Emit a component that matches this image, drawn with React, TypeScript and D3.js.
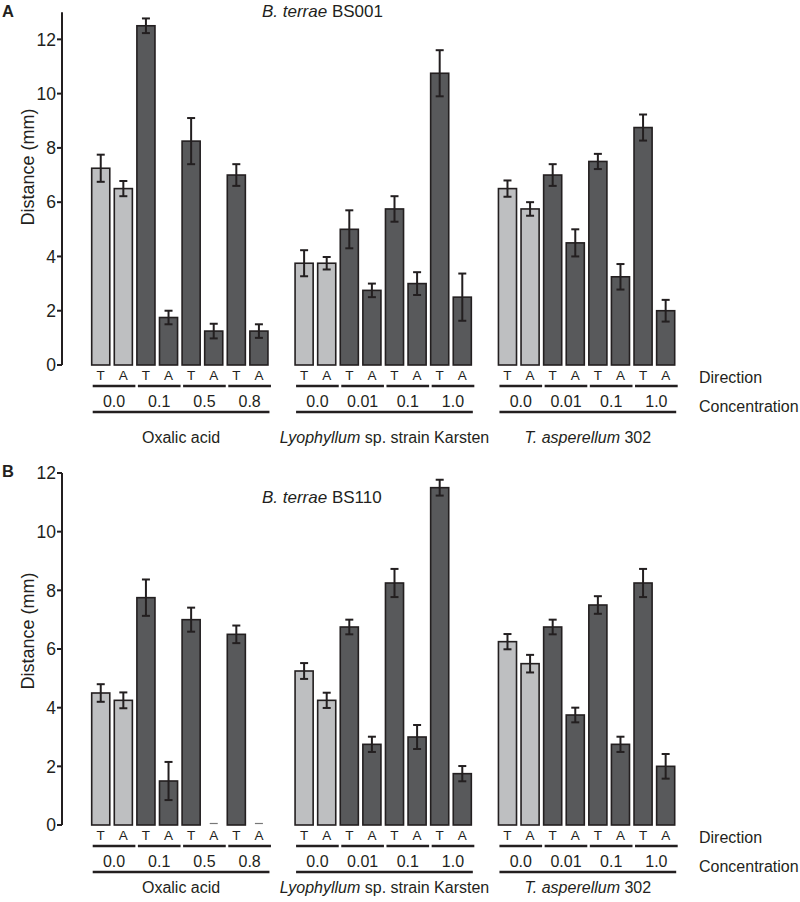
import React from "react";
import * as d3 from "d3";

const groupNames = ["Oxalic acid", "Lyophyllum sp. strain Karsten", "T. asperellum 302"];
const concentrations = [
  ["0.0", "0.1", "0.5", "0.8"],
  ["0.0", "0.01", "0.1", "1.0"],
  ["0.0", "0.01", "0.1", "1.0"],
];
const directions = ["T", "A"];

// order: group, concentration, direction (T, A)
const bs001Means = [
  7.25, 6.5, 12.5, 1.75, 8.25, 1.25, 7.0, 1.25,
  3.75, 3.75, 5.0, 2.75, 5.75, 3.0, 10.75, 2.5,
  6.5, 5.75, 7.0, 4.5, 7.5, 3.25, 8.75, 2.0,
];
const bs001Errors = [
  0.5, 0.28, 0.27, 0.25, 0.85, 0.27, 0.4, 0.25,
  0.48, 0.23, 0.7, 0.25, 0.47, 0.42, 0.85, 0.87,
  0.3, 0.25, 0.4, 0.5, 0.28, 0.47, 0.48, 0.4,
];
const bs110Means = [
  4.5, 4.25, 7.75, 1.5, 7.0, 0, 6.5, 0,
  5.25, 4.25, 6.75, 2.75, 8.25, 3.0, 11.5, 1.75,
  6.25, 5.5, 6.75, 3.75, 7.5, 2.75, 8.25, 2.0,
];
const bs110Errors = [
  0.3, 0.27, 0.62, 0.65, 0.41, 0, 0.3, 0,
  0.27, 0.26, 0.25, 0.26, 0.48, 0.41, 0.27, 0.26,
  0.26, 0.3, 0.25, 0.25, 0.3, 0.26, 0.48, 0.42,
];
const yTicksA = [0, 2, 4, 6, 8, 10, 12];
const yTicksB = [0, 2, 4, 6, 8, 10, 12];

const FONT = "'Liberation Sans', Arial, Helvetica, sans-serif";
const INK = "#231f20";
const LIGHT = "#bebfc1";
const DARK = "#58595b";

const slots = d3.range(26);
const x = d3.scaleBand<number>().domain(slots).range([91.7, 674.7]).paddingInner(0.2).paddingOuter(0);
const slotOf = (g: number, c: number, d: number) => g * 9 + c * 2 + d;

function Panel({ top, label, strain, means, errors, yMax, yTop, ticks, titleY, groupY, ylabY }: any) {
  const y = d3.scaleLinear().domain([0, yMax]).range([365, yTop]);
  const bw = x.bandwidth();
  const bars: any[] = [];
  groupNames.forEach((_, g) => {
    concentrations[g].forEach((_, c) => {
      directions.forEach((_, d) => {
        const i = g * 8 + c * 2 + d;
        bars.push({ i, g, c, d, v: means[i], e: errors[i], s: slotOf(g, c, d) });
      });
    });
  });
  const groupLabel = (g: number) => {
    if (g === 0) return <tspan>Oxalic acid</tspan>;
    if (g === 1)
      return (
        <>
          <tspan fontStyle="italic">Lyophyllum</tspan>
          <tspan> sp. strain Karsten</tspan>
        </>
      );
    return (
      <>
        <tspan fontStyle="italic">T. asperellum</tspan>
        <tspan> 302</tspan>
      </>
    );
  };
  return (
    <g transform={`translate(0,${top})`} fontFamily={FONT} fill={INK}>
      <text x={2} y={17} fontSize={16.5} fontWeight="bold">{label}</text>
      <text x={262} y={titleY} fontSize={17}>
        <tspan fontStyle="italic">B. terrae</tspan>
        <tspan> {strain}</tspan>
      </text>
      {/* y axis */}
      <line x1={62} x2={62} y1={y(yMax)} y2={y(0)} stroke={INK} strokeWidth={2} />
      {ticks.map((t: number) => (
        <g key={t}>
          <line x1={57} x2={62} y1={y(t)} y2={y(t)} stroke={INK} strokeWidth={2} />
          <text x={56} y={y(t)} dy="0.36em" textAnchor="end" fontSize={17.5}>{t}</text>
        </g>
      ))}
      <text transform={`translate(34,${ylabY}) rotate(-90)`} textAnchor="middle" fontSize={18}>Distance (mm)</text>
      {/* bars */}
      {bars.map((b) =>
        b.v > 0 ? (
          <g key={b.i}>
            <rect
              x={x(b.s)!}
              y={y(b.v)}
              width={bw}
              height={y(0) - y(b.v)}
              fill={b.c === 0 ? LIGHT : DARK}
              stroke={INK}
              strokeWidth={1.6}
            />
            <line x1={x(b.s)! + bw / 2} x2={x(b.s)! + bw / 2} y1={y(b.v + b.e)} y2={y(b.v - b.e)} stroke={INK} strokeWidth={2} />
            <line x1={x(b.s)! + bw / 2 - 4} x2={x(b.s)! + bw / 2 + 4} y1={y(b.v + b.e)} y2={y(b.v + b.e)} stroke={INK} strokeWidth={2} />
            <line x1={x(b.s)! + bw / 2 - 4} x2={x(b.s)! + bw / 2 + 4} y1={y(b.v - b.e)} y2={y(b.v - b.e)} stroke={INK} strokeWidth={2} />
          </g>
        ) : (
          <line key={b.i} x1={x(b.s)! + bw / 2 - 4} x2={x(b.s)! + bw / 2 + 4} y1={y(0) - 1.5} y2={y(0) - 1.5} stroke="#777" strokeWidth={1.2} />
        )
      )}
      {/* direction labels */}
      {bars.map((b) => (
        <text key={"d" + b.i} x={x(b.s)! + bw / 2} y={379.5} textAnchor="middle" fontSize={13.5}>
          {directions[b.d]}
        </text>
      ))}
      {/* concentration underlines & labels */}
      {groupNames.map((_, g) =>
        concentrations[g].map((cl, c) => {
          const x0 = x(slotOf(g, c, 0))! + 1;
          const x1 = x(slotOf(g, c, 1))! + bw + 3;
          return (
            <g key={g + "-" + c}>
              <line x1={x0} x2={x1} y1={386} y2={386} stroke={INK} strokeWidth={2.5} />
              <text x={(x0 + x1) / 2} y={407} textAnchor="middle" fontSize={16}>{cl}</text>
            </g>
          );
        })
      )}
      {groupNames.map((_, g) => {
        const x0 = x(slotOf(g, 0, 0))! + 1;
        const x1 = x(slotOf(g, 3, 1))! + bw + 1.5;
        return (
          <g key={"g" + g}>
            <line x1={x0} x2={x1} y1={412} y2={412} stroke={INK} strokeWidth={2.5} />
            <text x={(x0 + x1) / 2} y={groupY} textAnchor="middle" fontSize={16}>{groupLabel(g)}</text>
          </g>
        );
      })}
      <text x={699} y={383} fontSize={16}>Direction</text>
      <text x={699} y={412} fontSize={16}>Concentration</text>
    </g>
  );
}

export default function App() {
  return (
    <svg width={800} height={902} style={{ position: "absolute", left: 0, top: 0, background: "#fff" }}>
      <rect width={800} height={902} fill="#fff" />
      <Panel top={0} label="A" strain="BS001" means={bs001Means} errors={bs001Errors} yMax={13} yTop={12.2} ticks={yTicksA} titleY={17} groupY={443} ylabY={167} />
      <Panel top={460} label="B" strain="BS110" means={bs110Means} errors={bs110Errors} yMax={12} yTop={13} ticks={yTicksB} titleY={43} groupY={433} ylabY={171} />
    </svg>
  );
}
